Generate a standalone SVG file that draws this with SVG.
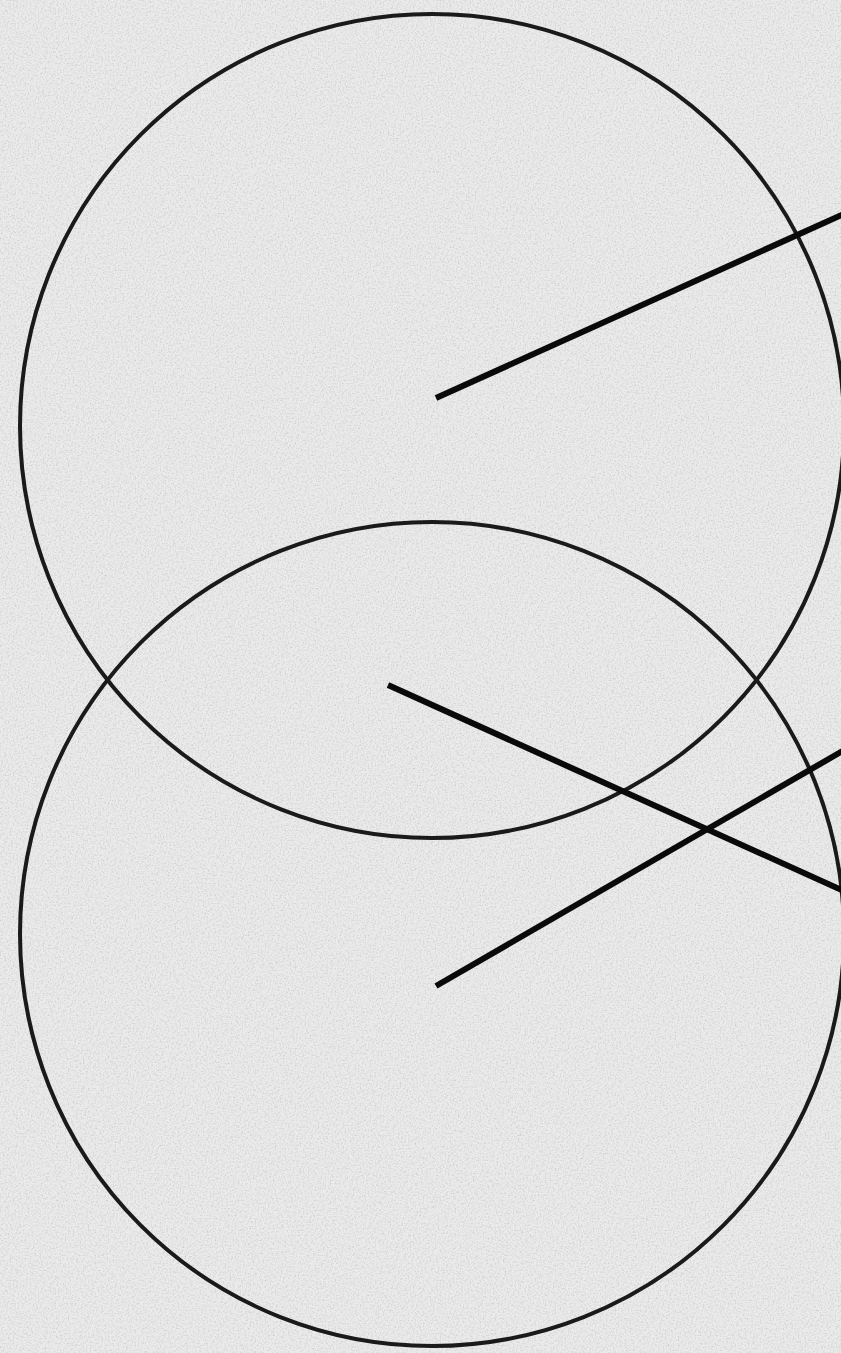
<svg xmlns="http://www.w3.org/2000/svg" width="841" height="1353" viewBox="0 0 841 1353">
  <defs>
    <filter id="paper" x="0" y="0" width="100%" height="100%">
      <feTurbulence type="fractalNoise" baseFrequency="0.6" numOctaves="3" seed="4" result="n"/>
      <feColorMatrix type="matrix" in="n" values="0 0 0 0 0.45  0 0 0 0 0.45  0 0 0 0 0.45  0 0 0 -2.2 1.25"/>
    </filter>
  </defs>
  <style>
    .ring { fill: none; stroke: #1a1a1a; stroke-width: 4; }
    .edge { fill: none; stroke: #0a0a0a; stroke-width: 6; stroke-linecap: butt; }
  </style>
  <rect x="0" y="0" width="841" height="1353" fill="#ebebeb"/>
  <rect x="0" y="0" width="841" height="1353" filter="url(#paper)" opacity="0.5"/>
  <g id="circle-top">
    <circle class="ring" cx="432" cy="426" r="412"/>
  </g>
  <g id="circle-bottom">
    <circle class="ring" cx="432" cy="934" r="412"/>
  </g>
  <g id="connectors">
    <line class="edge" x1="436" y1="398" x2="846" y2="213"/>
    <line class="edge" x1="388" y1="685" x2="846" y2="892"/>
    <line class="edge" x1="436" y1="986" x2="846" y2="749"/>
  </g>
</svg>
